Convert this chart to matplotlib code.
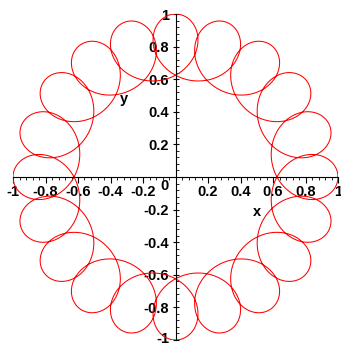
import numpy as np
import matplotlib
matplotlib.use("Agg")
import matplotlib.pyplot as plt
import matplotlib.transforms as mtransforms
from matplotlib.ticker import MultipleLocator, FuncFormatter
from matplotlib.font_manager import FontProperties

# Curve parameters: outer radius 1, inner radius 0.6, 20 loops
main_radius = [0.8]
loop_radius = [0.2]
loop_freq = [-19]

major_ticks = [-1, -0.8, -0.6, -0.4, -0.2, 0.2, 0.4, 0.6, 0.8, 1]
minor_step = 0.04

t = np.linspace(0, 2 * np.pi, 8000)
z = main_radius[0] * np.exp(1j * t) + loop_radius[0] * np.exp(1j * loop_freq[0] * t)
x, y = z.real, z.imag

fig = plt.figure(figsize=(3.41, 3.46), dpi=100)
ax = fig.add_axes([13/341, 6/346, 325/341, 326/346])
ax.plot(x, y, color="#ff0000", lw=0.75)
ax.set_xlim(-1, 1)
ax.set_ylim(-1, 1)

for s in ["top", "right"]:
    ax.spines[s].set_visible(False)
ax.spines["left"].set_position(("data", 0))
ax.spines["bottom"].set_position(("data", 0))
ax.spines["left"].set_linewidth(0.8)
ax.spines["bottom"].set_linewidth(0.8)

ax.set_xticks(major_ticks)
ax.set_yticks(major_ticks)
ax.xaxis.set_minor_locator(MultipleLocator(minor_step))
ax.yaxis.set_minor_locator(MultipleLocator(minor_step))

fmt = FuncFormatter(lambda v, p: ("%g" % v).replace("\u2212", "-"))
ax.xaxis.set_major_formatter(fmt)
ax.yaxis.set_major_formatter(fmt)

font = dict(family="Liberation Sans", weight="bold", size=10.5)
fp = FontProperties(**font)
for lab in ax.get_xticklabels() + ax.get_yticklabels():
    lab.set_fontproperties(fp)

ax.tick_params(axis="x", which="major", direction="out", length=4, width=0.8, pad=2)
ax.tick_params(axis="x", which="minor", direction="out", length=2, width=0.6)
ax.tick_params(axis="y", which="major", direction="inout", length=5, width=0.8, pad=2)
ax.tick_params(axis="y", which="minor", direction="in", length=2, width=0.6)

# nudge the lowest y label up slightly so it stays inside the figure
shift = mtransforms.ScaledTranslation(0, 2 / 72, fig.dpi_scale_trans)
for tk in ax.yaxis.get_major_ticks():
    if np.isclose(tk.get_loc(), -1):
        tk.label1.set_transform(tk.label1.get_transform() + shift)

ax.text(-0.045, -0.01, "0", ha="right", va="top", **font)
ax.text(0.5, -0.215, "x", ha="center", va="center", **font)
ax.text(-0.32, 0.48, "y", ha="center", va="center", **font)

fig.savefig("out.png", dpi=100)
